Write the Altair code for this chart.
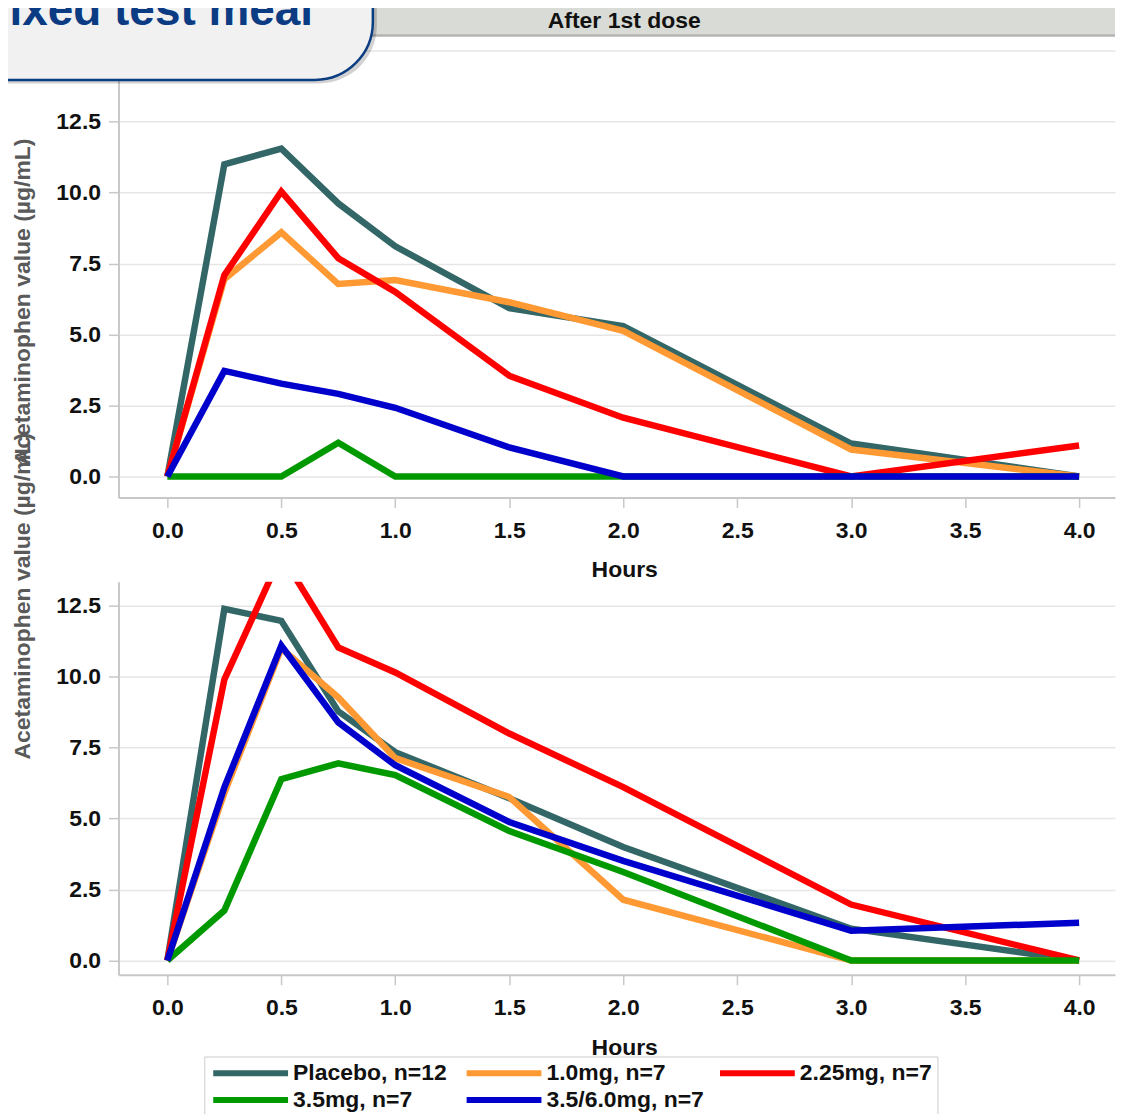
import altair as alt
import pandas as pd

# ---------------- data ----------------
hours = [0, 0.25, 0.5, 0.75, 1.0, 1.5, 2.0, 3.0, 4.0]
series = ["Placebo, n=12", "1.0mg, n=7", "2.25mg, n=7", "3.5mg, n=7", "3.5/6.0mg, n=7"]
colors = ["#336666", "#ff9933", "#ff0000", "#009900", "#0000cc"]

top_placebo = [0, 11.0, 11.55, 9.62, 8.11, 5.93, 5.30, 1.16, 0]
top_1mg = [0, 6.95, 8.6, 6.78, 6.92, 6.14, 5.13, 0.95, 0]
top_225mg = [0, 7.09, 10.04, 7.69, 6.5, 3.55, 2.07, 0, 1.09]
top_35mg = [0, 0, 0, 1.19, 0, 0, 0, 0, 0]
top_356mg = [0, 3.72, 3.27, 2.91, 2.42, 1.02, 0, 0, 0]

bot_placebo = [0, 12.39, 11.97, 8.78, 7.34, 5.72, 4.0, 1.12, 0]
bot_1mg = [0, 5.9, 11.0, 9.27, 7.13, 5.76, 2.14, 0, 0]
bot_225mg = [0, 9.9, 14.3, 11.03, 10.15, 8.0, 6.11, 1.97, 0]
bot_35mg = [0, 1.76, 6.39, 6.95, 6.53, 4.56, 3.12, 0, 0]
bot_356mg = [0, 6.1, 11.1, 8.39, 6.88, 4.88, 3.51, 1.05, 1.33]

x_ticks = [0, 0.5, 1.0, 1.5, 2.0, 2.5, 3.0, 3.5, 4.0]
top_y_ticks = [0, 2.5, 5.0, 7.5, 10.0, 12.5, 15.0]
bot_y_ticks = [0, 2.5, 5.0, 7.5, 10.0, 12.5]

panel_title = ["After 1st dose"]
box_title = ["Mixed test meal"]
y_title = "Acetaminophen value (µg/mL)"
x_title = "Hours"

FONT = "Liberation Sans"
W = 999
TOP_H = 462
BOT_H = 394
XDOM = [-0.2144, 4.1575]


def long_df(vals_list):
    rows = []
    for s, vals in zip(series, vals_list):
        for h, v in zip(hours, vals):
            rows.append({"Hours": h, "value": v, "series": s})
    return pd.DataFrame(rows)


# long, flat line symbol: path drawn from the entry's left edge, 75 px long
legend = alt.Legend(
    orient="none", legendX=86, legendY=1022.5, direction="horizontal", columns=3,
    title=None, symbolType="M-1,0H9", symbolSize=225, symbolStrokeWidth=6,
    labelFont=FONT, labelFontSize=23, labelFontWeight="bold", labelColor="#111111",
    labelOffset=61, columnPadding=4, rowPadding=2, padding=5,
    strokeColor="#cccccc", gridAlign="all", labelLimit=400,
)


def lines(df, ydom, yticks, title_y, height):
    return alt.Chart(df).mark_line(strokeWidth=6.5, clip=True, strokeJoin="miter").encode(
        x=alt.X("Hours:Q", scale=alt.Scale(domain=XDOM, nice=False, zero=False),
                axis=alt.Axis(values=x_ticks, format=".1f", title=x_title, grid=False,
                              titleX=507, titleY=72.5, titleBaseline="middle",
                              titleColor="#111111", labelPadding=12)),
        y=alt.Y("value:Q", scale=alt.Scale(domain=ydom, nice=False, zero=False),
                axis=alt.Axis(values=yticks, format=".1f", title=y_title, grid=True,
                              titleX=-96, titleY=title_y, titleAngle=270,
                              titleBaseline="middle", titleAlign="center",
                              titleColor="#5a5a5a", labelPadding=8)),
        color=alt.Color("series:N", scale=alt.Scale(domain=series, range=colors), legend=legend),
    ).properties(width=W, height=height)


top_lines = lines(long_df([top_placebo, top_1mg, top_225mg, top_35mg, top_356mg]),
                  [-0.738, 15.50], top_y_ticks, 265.5, TOP_H)
bot_lines = lines(long_df([bot_placebo, bot_1mg, bot_225mg, bot_35mg, bot_356mg]),
                  [-0.503, 13.35], bot_y_ticks, 14, BOT_H)

hdr_df = pd.DataFrame({"t": panel_title})
box_df = pd.DataFrame({"t": box_title})

band = alt.Chart(hdr_df).mark_rect(color="#d9dbd6").encode(
    x=alt.value(0), x2=alt.value(W), y=alt.value(-30.5), y2=alt.value(-1.5))
band_line = alt.Chart(hdr_df).mark_rule(color="#b4b4b4", strokeWidth=2.5).encode(
    x=alt.value(0), x2=alt.value(W), y=alt.value(-1))
band_text = alt.Chart(hdr_df).mark_text(
    font=FONT, fontSize=23, fontWeight="bold", color="#111111", baseline="middle", align="center"
).encode(x=alt.value(507), y=alt.value(-15.5), text="t:N")

shadow = alt.Chart(box_df).mark_rect(color="#000000", opacity=0.18, cornerRadiusBottomRight=58).encode(
    x=alt.value(-196), x2=alt.value(259), y=alt.value(-76), y2=alt.value(47))
box = alt.Chart(box_df).mark_rect(
    fill="#f1f1f1", stroke="#0b3d82", strokeWidth=2.5, cornerRadiusBottomRight=58
).encode(x=alt.value(-200), x2=alt.value(255), y=alt.value(-80), y2=alt.value(43.5))
box_text = alt.Chart(box_df).mark_text(
    font=FONT, fontSize=46, fontWeight="bold", color="#0b3b82", align="right", baseline="alphabetic"
).encode(x=alt.value(195), y=alt.value(-11.5), text="t:N")

top = alt.layer(top_lines, band, band_line, band_text, shadow, box, box_text)
bottom = alt.layer(bot_lines)

chart = alt.vconcat(top, bottom, spacing=84.5, bounds="flush").properties(
    padding={"left": -91.25, "top": -54.75, "right": 0, "bottom": -5.5}
).configure_view(stroke=None).configure_axis(
    labelFont=FONT, labelFontSize=23, labelFontWeight="bold", labelColor="#111111",
    titleFont=FONT, titleFontSize=23, titleFontWeight="bold",
    tickSize=10, tickColor="#c8c8c8", tickWidth=1.5,
    domainColor="#c8c8c8", domainWidth=2,
    gridColor="#e6e6e6", gridWidth=1.5,
)

chart.save("out.html", embed_options={"renderer": "svg", "actions": False})
